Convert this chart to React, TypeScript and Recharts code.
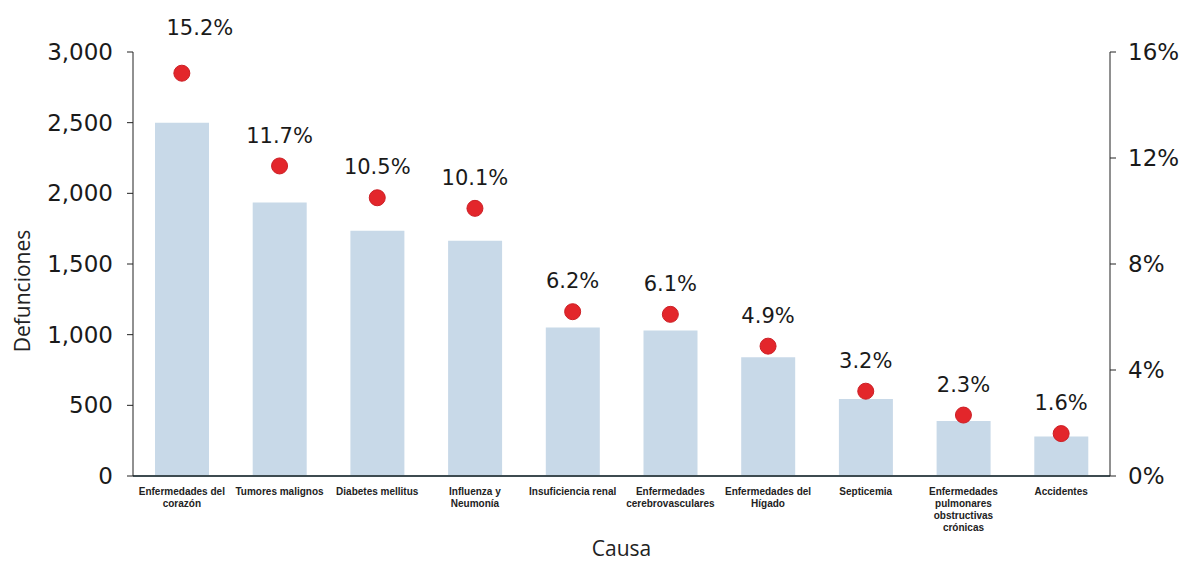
import { ComposedChart, Bar, Line, XAxis, YAxis, LabelList } from 'recharts';

const causas = [
  'Enfermedades del\ncorazón',
  'Tumores malignos',
  'Diabetes mellitus',
  'Influenza y\nNeumonía',
  'Insuficiencia renal',
  'Enfermedades\ncerebrovasculares',
  'Enfermedades del\nHígado',
  'Septicemia',
  'Enfermedades\npulmonares\nobstructivas\ncrónicas',
  'Accidentes',
];
const defunciones = [2500, 1935, 1735, 1665, 1050, 1030, 840, 545, 390, 280];
const porcentajes = [15.2, 11.7, 10.5, 10.1, 6.2, 6.1, 4.9, 3.2, 2.3, 1.6];
const ticksIzq = [0, 500, 1000, 1500, 2000, 2500, 3000];
const ticksDer = [0, 4, 8, 12, 16];

const data = causas.map((causa, i) => ({
  causa,
  defunciones: defunciones[i],
  porcentaje: porcentajes[i],
}));

const tickStyle = { fontFamily: 'DejaVu Sans', fontSize: 23, fill: '#1a1a1a' };

function CausaTick({ x, y, payload }: any) {
  const lines = String(payload.value).split('\n');
  return (
    <text x={x} y={y} textAnchor="middle" fontFamily="Liberation Sans" fontSize={10} fontWeight="bold" fill="#222">
      {lines.map((l, i) => (
        <tspan key={i} x={x} dy={i === 0 ? 11 : 12}>
          {l}
        </tspan>
      ))}
    </text>
  );
}

function PctLabel({ x, y, value, index }: any) {
  // the first label sits higher and a bit to the right in the original
  const dx = index === 0 ? 18 : 0;
  const dy = index === 0 ? 46 : 31;
  return (
    <text
      x={x + dx}
      y={y - dy}
      dy="0.36em"
      textAnchor="middle"
      fontFamily="DejaVu Sans"
      fontSize={21}
      fill="#1a1a1a"
    >
      {`${String(value)}%`}
    </text>
  );
}

function TituloY({ viewBox }: any) {
  const cy = viewBox.y + viewBox.height / 2 + 27;
  return (
    <text
      transform={`translate(22, ${cy}) rotate(-90)`}
      textAnchor="middle"
      dy="0.36em"
      fontFamily="Open Sans"
      fontSize={21}
      fill="#222"
    >
      Defunciones
    </text>
  );
}

function TituloX({ viewBox }: any) {
  return (
    <text
      x={viewBox.x + viewBox.width / 2}
      y={viewBox.y + viewBox.height - 7}
      textAnchor="middle"
      fontFamily="Open Sans"
      fontSize={21}
      fill="#222"
    >
      Causa
    </text>
  );
}

export default function App() {
  return (
    <div style={{ position: 'absolute', left: 0, top: 0, background: '#fff' }}>
      <ComposedChart
        width={1190}
        height={563}
        data={data}
        margin={{ top: 52, right: 0, bottom: 0, left: 0 }}
      >
        <XAxis
          dataKey="causa"
          height={87}
          interval={0}
          tickLine={false}
          axisLine={{ stroke: '#3d4b50', strokeWidth: 2 }}
          tick={<CausaTick />}
          label={<TituloX />}
        />
        <YAxis
          yAxisId="izq"
          width={133}
          domain={[0, 3000]}
          ticks={ticksIzq}
          tickFormatter={(v) => v.toLocaleString('en-US')}
          tick={tickStyle}
          tickSize={6}
          tickMargin={14}
          axisLine={{ stroke: '#222' }}
          tickLine={{ stroke: '#222' }}
          label={<TituloY />}
        />
        <YAxis
          yAxisId="der"
          orientation="right"
          width={80}
          domain={[0, 16]}
          ticks={ticksDer}
          tickFormatter={(v) => `${v}%`}
          tick={{ ...tickStyle, textAnchor: 'start' }}
          tickSize={6}
          tickMargin={12}
          axisLine={{ stroke: '#222' }}
          tickLine={{ stroke: '#222' }}
        />
        <Bar
          yAxisId="izq"
          dataKey="defunciones"
          fill="#c8d9e8"
          barSize={54}
          isAnimationActive={false}
        />
        <Line
          yAxisId="der"
          dataKey="porcentaje"
          stroke="none"
          dot={{ r: 8, fill: '#e3262b', stroke: '#cc1f25', strokeWidth: 1 }}
          activeDot={false}
          isAnimationActive={false}
        >
          <LabelList dataKey="porcentaje" content={<PctLabel />} />
        </Line>
      </ComposedChart>
    </div>
  );
}
